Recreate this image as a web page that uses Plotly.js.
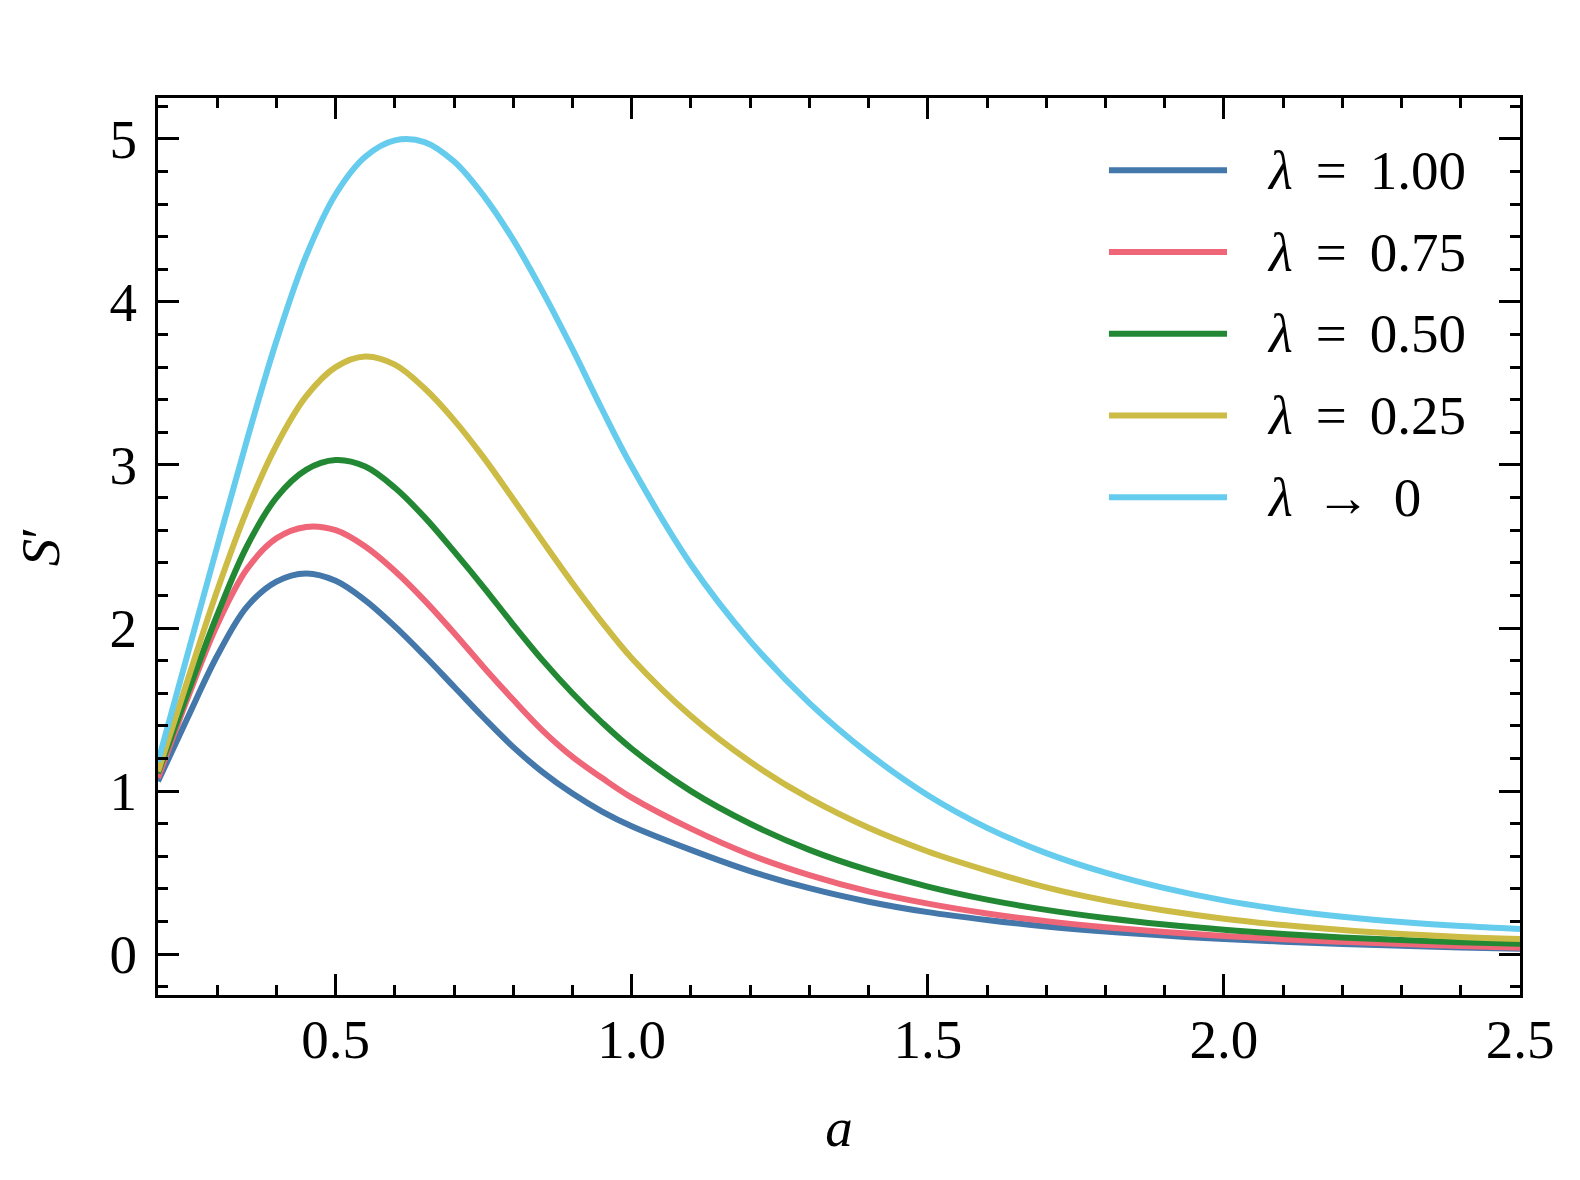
<!DOCTYPE html>
<html>
<head>
<meta charset="utf-8">
<script src="https://cdn.plot.ly/plotly-3.0.1.min.js"></script>
<style>
  html, body { margin: 0; padding: 0; background: #fff; }
  #grafico { width: 1580px; height: 1180px; }
</style>
</head>
<body>
<div id="grafico"></div>
<script>
// valores: a e S' para cada lambda
const a = [0.20, 0.25, 0.30, 0.35, 0.40, 0.45, 0.50, 0.55, 0.60, 0.65, 0.70, 0.75, 0.80, 0.85, 0.90, 0.95, 1.00,
  1.1, 1.2, 1.3, 1.4, 1.5, 1.6, 1.7, 1.8, 1.9, 2.0, 2.1, 2.2, 2.3, 2.4, 2.5]

const sL100 = [1.06, 1.45, 1.83, 2.13, 2.285, 2.335, 2.29, 2.17, 2.01, 1.83, 1.64, 1.45, 1.27, 1.115, 0.985, 0.875, 0.785,
  0.64, 0.51, 0.405, 0.322, 0.258, 0.21, 0.17, 0.139, 0.114, 0.093, 0.077, 0.063, 0.052, 0.042, 0.034]

const sL075 = [1.08, 1.57, 2.02, 2.36, 2.55, 2.62, 2.60, 2.50, 2.35, 2.17, 1.97, 1.76, 1.56, 1.37, 1.21, 1.08, 0.96,
  0.77, 0.61, 0.485, 0.385, 0.31, 0.25, 0.203, 0.166, 0.136, 0.112, 0.092, 0.076, 0.062, 0.05, 0.04]

const sL050 = [1.11, 1.60, 2.08, 2.50, 2.80, 2.97, 3.03, 2.99, 2.86, 2.68, 2.47, 2.25, 2.02, 1.80, 1.60, 1.42, 1.26,
  1.00, 0.80, 0.64, 0.515, 0.415, 0.335, 0.272, 0.222, 0.182, 0.15, 0.124, 0.103, 0.087, 0.074, 0.064]

const sL025 = [1.12, 1.68, 2.23, 2.72, 3.12, 3.42, 3.60, 3.665, 3.615, 3.47, 3.275, 3.045, 2.79, 2.53, 2.275, 2.035, 1.815,
  1.46, 1.18, 0.955, 0.775, 0.63, 0.513, 0.41, 0.33, 0.268, 0.218, 0.179, 0.148, 0.124, 0.106, 0.094]

const sL0 = [1.18, 1.84, 2.50, 3.15, 3.76, 4.28, 4.66, 4.89, 4.99, 4.98, 4.86, 4.65, 4.38, 4.06, 3.71, 3.34, 2.99,
  2.39, 1.92, 1.54, 1.23, 0.975, 0.775, 0.62, 0.50, 0.405, 0.33, 0.273, 0.23, 0.197, 0.173, 0.155]

const esp = "\u2004\u200A"
const rotulos = [
  `<i>λ</i>${esp}=${esp}1.00`,
  `<i>λ</i>${esp}=${esp}0.75`,
  `<i>λ</i>${esp}=${esp}0.50`,
  `<i>λ</i>${esp}=${esp}0.25`,
  `<i>λ</i>${esp}→${esp}0`,
]
const cores = ["#4477AA", "#EE6677", "#228833", "#CCBB44", "#66CCEE"]
const series = [sL100, sL075, sL050, sL025, sL0]

const fonte = "Liberation Serif, Times New Roman, serif"

const data = series.map((s, i) => ({
  x: a,
  y: s,
  mode: "lines",
  type: "scatter",
  name: rotulos[i],
  line: { color: cores[i], width: 6, shape: "spline", smoothing: 1 },
  showlegend: false,
}))

// legenda feita com shapes + anotações (o traço da legenda do plotly é curto demais)
const shapes = []
const annotations = []
rotulos.forEach((r, i) => {
  const yy = 0.9194 - i * 0.0911
  shapes.push({
    type: "line", xref: "paper", yref: "paper",
    x0: 0.6982, x1: 0.7849, y0: yy, y1: yy,
    line: { color: cores[i], width: 6 },
  })
  annotations.push({
    xref: "paper", yref: "paper", x: 0.813, y: yy,
    xanchor: "left", yanchor: "middle", showarrow: false,
    text: r, font: { family: fonte, size: 55, color: "#000" },
  })
})

const eixo = {
  ticks: "inside",
  ticklen: 21,
  tickwidth: 3,
  tickcolor: "#000",
  showline: true,
  linecolor: "#000",
  linewidth: 3,
  mirror: "allticks",
  showgrid: false,
  zeroline: false,
  tickfont: { family: fonte, size: 55, color: "#000" },
}

const layout = {
  width: 1580,
  height: 1180,
  margin: { l: 158, r: 60, t: 98, b: 185 },
  paper_bgcolor: "#fff",
  plot_bgcolor: "#fff",
  xaxis: Object.assign({}, eixo, {
    range: [0.2, 2.5],
    tickvals: [0.5, 1.0, 1.5, 2.0, 2.5],
    ticktext: ["0.5", "1.0", "1.5", "2.0", "2.5"],
    ticklabelstandoff: -6,
    minor: { ticks: "inside", dtick: 0.1, tick0: 0, ticklen: 10, tickwidth: 3, tickcolor: "#000" },
    title: { text: "<i>a</i>", font: { family: fonte, size: 55, color: "#000" }, standoff: 39 },
  }),
  yaxis: Object.assign({}, eixo, {
    range: [-0.25, 5.25],
    tickvals: [0, 1, 2, 3, 4, 5],
    ticklabelstandoff: 7,
    minor: { ticks: "inside", dtick: 0.2, tick0: 0, ticklen: 10, tickwidth: 3, tickcolor: "#000" },
    title: { text: "<i>S</i>′", font: { family: fonte, size: 55, color: "#000" }, standoff: 33 },
  }),
  shapes: shapes,
  annotations: annotations,
}

Plotly.newPlot("grafico", data, layout, { staticPlot: true })
</script>
</body>
</html>
